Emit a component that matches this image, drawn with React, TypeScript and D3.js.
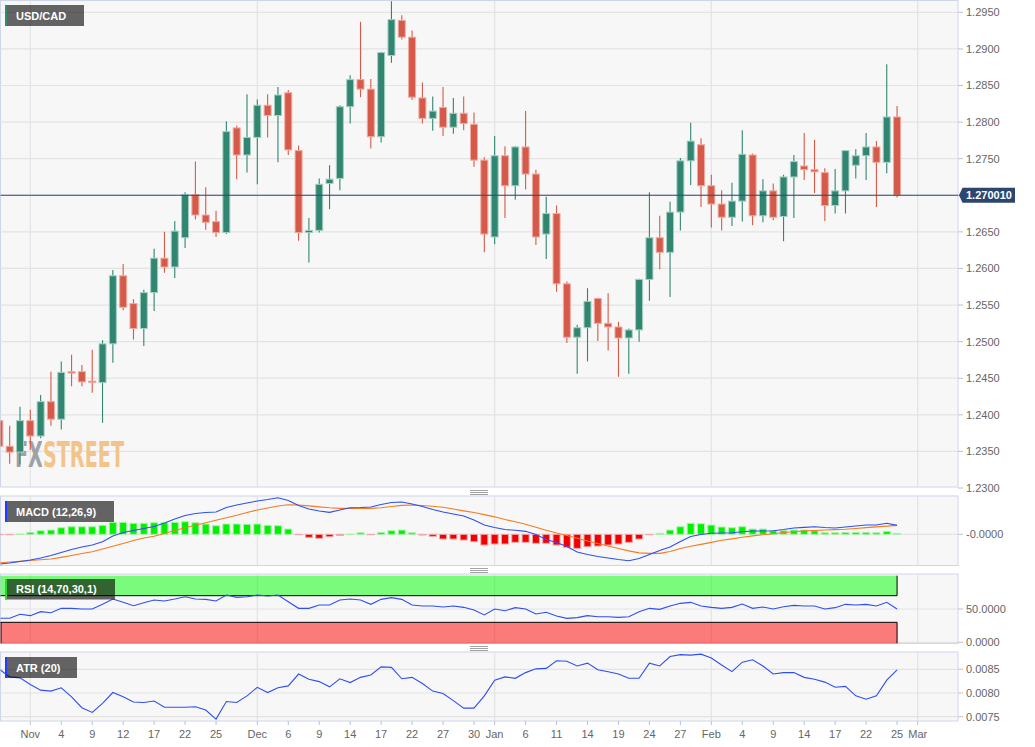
import * as d3 from "d3";

// trading days shown on the chart (one candle each)
const days = [
  "2021-10-27", "2021-10-28", "2021-10-29",
  "2021-11-01", "2021-11-02", "2021-11-03", "2021-11-04", "2021-11-05",
  "2021-11-08", "2021-11-09", "2021-11-10", "2021-11-11", "2021-11-12",
  "2021-11-15", "2021-11-16", "2021-11-17", "2021-11-18", "2021-11-19",
  "2021-11-22", "2021-11-23", "2021-11-24", "2021-11-25", "2021-11-26",
  "2021-11-29", "2021-11-30",
  "2021-12-01", "2021-12-02", "2021-12-03",
  "2021-12-06", "2021-12-07", "2021-12-08", "2021-12-09", "2021-12-10",
  "2021-12-13", "2021-12-14", "2021-12-15", "2021-12-16", "2021-12-17",
  "2021-12-20", "2021-12-21", "2021-12-22", "2021-12-23", "2021-12-24",
  "2021-12-27", "2021-12-28", "2021-12-29", "2021-12-30", "2021-12-31",
  "2022-01-03", "2022-01-04", "2022-01-05", "2022-01-06", "2022-01-07",
  "2022-01-10", "2022-01-11", "2022-01-12", "2022-01-13", "2022-01-14",
  "2022-01-17", "2022-01-18", "2022-01-19", "2022-01-20", "2022-01-21",
  "2022-01-24", "2022-01-25", "2022-01-26", "2022-01-27", "2022-01-28",
  "2022-01-31",
  "2022-02-01", "2022-02-02", "2022-02-03", "2022-02-04",
  "2022-02-07", "2022-02-08", "2022-02-09", "2022-02-10", "2022-02-11",
  "2022-02-14", "2022-02-15", "2022-02-16", "2022-02-17", "2022-02-18",
  "2022-02-21", "2022-02-22", "2022-02-23", "2022-02-24", "2022-02-25",
];
// the axis runs a couple of days past the last candle
const axisDays = [...days, "2022-02-28", "2022-03-01"];

// open, high, low, close
const ohlc: [number, number, number, number][] = [
  [1.2392, 1.2434, 1.2296, 1.2357], [1.2357, 1.2385, 1.2333, 1.2349], [1.2349, 1.2411, 1.2332, 1.2392],
  [1.2392, 1.2407, 1.2352, 1.2371], [1.2371, 1.2427, 1.2368, 1.2418], [1.2418, 1.2459, 1.2385, 1.2394],
  [1.2394, 1.2473, 1.238, 1.2458], [1.2459, 1.2482, 1.2439, 1.2457], [1.2459, 1.2468, 1.2439, 1.2445],
  [1.2446, 1.2489, 1.243, 1.2444], [1.2444, 1.2502, 1.2389, 1.2497], [1.2497, 1.2598, 1.2471, 1.259],
  [1.259, 1.2606, 1.2543, 1.2547], [1.2552, 1.2558, 1.2503, 1.2518], [1.2518, 1.2571, 1.2494, 1.2567],
  [1.2567, 1.2627, 1.2542, 1.2614], [1.2614, 1.265, 1.2594, 1.2602], [1.2602, 1.2665, 1.2587, 1.2651],
  [1.2642, 1.2704, 1.2628, 1.2701], [1.2701, 1.2746, 1.2667, 1.2673], [1.2673, 1.2711, 1.2653, 1.2663],
  [1.2664, 1.2679, 1.2643, 1.2649], [1.2649, 1.2801, 1.2647, 1.2787], [1.2792, 1.2795, 1.2722, 1.2755],
  [1.2755, 1.2838, 1.2731, 1.2779], [1.2779, 1.2831, 1.2715, 1.2823], [1.2823, 1.2838, 1.2779, 1.2809],
  [1.2809, 1.2848, 1.2745, 1.2837], [1.284, 1.2844, 1.2755, 1.2762], [1.2761, 1.2768, 1.2638, 1.2649],
  [1.2649, 1.2669, 1.2608, 1.2652], [1.2652, 1.2723, 1.2649, 1.2715], [1.2716, 1.2741, 1.2681, 1.2722],
  [1.2723, 1.2823, 1.2707, 1.2821], [1.2821, 1.2864, 1.2798, 1.2858], [1.2858, 1.2937, 1.2834, 1.2845],
  [1.2845, 1.2859, 1.2764, 1.278], [1.278, 1.2896, 1.2772, 1.2895], [1.2891, 1.2965, 1.2881, 1.294],
  [1.2939, 1.2946, 1.2913, 1.2916], [1.2916, 1.2925, 1.283, 1.2834], [1.2833, 1.2854, 1.2798, 1.2805],
  [1.2805, 1.2835, 1.2788, 1.2815], [1.282, 1.2848, 1.2781, 1.2793], [1.2793, 1.2833, 1.2784, 1.2812],
  [1.2812, 1.2835, 1.2789, 1.2798], [1.2797, 1.2813, 1.2739, 1.2748], [1.2748, 1.2752, 1.2622, 1.2647],
  [1.2643, 1.2781, 1.2633, 1.2754], [1.2754, 1.2767, 1.2669, 1.2713], [1.2713, 1.2767, 1.2694, 1.2766],
  [1.2766, 1.2815, 1.2708, 1.2729], [1.2729, 1.2735, 1.2632, 1.2643], [1.2647, 1.2698, 1.2613, 1.2675],
  [1.2675, 1.2686, 1.2568, 1.2579], [1.2579, 1.2582, 1.2498, 1.2506], [1.2506, 1.2523, 1.2456, 1.2519],
  [1.2519, 1.2573, 1.2473, 1.2555], [1.2559, 1.256, 1.2501, 1.2525], [1.2525, 1.2566, 1.2488, 1.252],
  [1.252, 1.2527, 1.2452, 1.2505], [1.2505, 1.2518, 1.2456, 1.2516], [1.2516, 1.2586, 1.25, 1.2585],
  [1.2585, 1.2704, 1.2556, 1.2642], [1.2642, 1.2672, 1.2599, 1.2622], [1.2622, 1.2691, 1.2561, 1.2677],
  [1.2677, 1.2751, 1.2652, 1.2747], [1.2747, 1.2799, 1.2714, 1.2774], [1.2769, 1.2778, 1.2684, 1.2713],
  [1.2713, 1.2728, 1.2656, 1.2688], [1.2688, 1.2707, 1.2652, 1.267], [1.267, 1.2717, 1.2658, 1.2692],
  [1.2692, 1.2789, 1.2664, 1.2756], [1.2755, 1.2757, 1.2659, 1.2672], [1.2672, 1.2722, 1.2663, 1.2706],
  [1.2706, 1.2716, 1.2666, 1.267], [1.2671, 1.2728, 1.2637, 1.2725], [1.2725, 1.2755, 1.2669, 1.2746],
  [1.274, 1.2785, 1.2721, 1.2735], [1.2735, 1.2776, 1.2703, 1.2732], [1.2731, 1.2737, 1.2665, 1.2686],
  [1.2686, 1.2736, 1.2675, 1.2706], [1.2706, 1.2762, 1.2675, 1.2761], [1.2741, 1.2763, 1.2723, 1.2754],
  [1.2754, 1.2785, 1.2721, 1.2766], [1.2766, 1.2774, 1.2684, 1.2745], [1.2745, 1.2879, 1.273, 1.2807],
  [1.2807, 1.2822, 1.2697, 1.27001],
];
const lastPrice = 1.27001;

const macdLine = [
  -0.00852, -0.00824, -0.00781, -0.00738, -0.0068, -0.00608, -0.00522, -0.00436, -0.00364, -0.00307,
  -0.00212, -0.00049, 0.00052, 0.00109, 0.00166, 0.00224, 0.00324, 0.00439, 0.0054, 0.00597,
  0.00626, 0.0064, 0.00769, 0.00841, 0.00898, 0.00956, 0.00999, 0.0105, 0.0097, 0.00827,
  0.00726, 0.00669, 0.00631, 0.00697, 0.00763, 0.00769, 0.00784, 0.00855, 0.00913, 0.00927,
  0.0087, 0.00798, 0.00712, 0.0064, 0.00583, 0.00525, 0.0041, 0.00267, 0.00195, 0.00138,
  0.00115, 0.00086, -0.00006, -0.00149, -0.00235, -0.0035, -0.00508, -0.0058, -0.00637, -0.0068,
  -0.00723, -0.00758, -0.00695, -0.0058, -0.00465, -0.00364, -0.00207, -0.00063, -0.00006, 0.00029,
  0.00037, 0.00046, 0.00075, 0.00095, 0.00095, 0.00103, 0.00138, 0.00181, 0.00201, 0.00218,
  0.00195, 0.00181, 0.0021, 0.00238, 0.00267, 0.00267, 0.00316, 0.00258,
];
const signalLine = [
  -0.00815, -0.00795, -0.00775, -0.00752, -0.00729, -0.00709, -0.0066, -0.00608, -0.00551, -0.00499,
  -0.00422, -0.00344, -0.00264, -0.00178, -0.00106, -0.00055, 0.00023, 0.00109, 0.00189, 0.00261,
  0.00333, 0.00402, 0.00474, 0.00545, 0.00626, 0.00697, 0.00755, 0.00812, 0.00847, 0.00841,
  0.00818, 0.00789, 0.00763, 0.00746, 0.00746, 0.00746, 0.00746, 0.00763, 0.00798, 0.00832,
  0.00841, 0.00827, 0.00804, 0.00775, 0.00726, 0.00674, 0.00626, 0.00565, 0.00502, 0.00425,
  0.00362, 0.00287, 0.00201, 0.00118, 0.00037, -0.00034, -0.00115, -0.00192, -0.00264, -0.00336,
  -0.00408, -0.00474, -0.00531, -0.00545, -0.00545, -0.00494, -0.00408, -0.00344, -0.00287, -0.0023,
  -0.00172, -0.0013, -0.00085, -0.00045, -0.00012, 0.00015, 0.00052, 0.00075, 0.00098, 0.00112,
  0.00123, 0.00135, 0.00146, 0.00166, 0.00192, 0.00215, 0.00235, 0.00258,
];
const macdHist = [
  -0.0001, -0.0001, 0.0001, 0.00057, 0.00103, 0.00123, 0.00189, 0.00218, 0.00218, 0.00218,
  0.00258, 0.00344, 0.00344, 0.00316, 0.00316, 0.00333, 0.00333, 0.00344, 0.00362, 0.00333,
  0.00296, 0.00247, 0.00296, 0.00296, 0.00287, 0.00296, 0.00258, 0.00247, 0.00152, -0.00005,
  -0.00086, -0.00115, -0.00069, -0.00029, 0.00005, 0.00046, -0.00005, 0.00057, 0.00103, 0.00123,
  0.00046, -0.0002, -0.00057, -0.00135, -0.00135, -0.00164, -0.00212, -0.00307, -0.00278, -0.00278,
  -0.0023, -0.0023, -0.00258, -0.00258, -0.00307, -0.00373, -0.00402, -0.00356, -0.00336, -0.00307,
  -0.00278, -0.0023, -0.00135, -0.00009, 0.00029, 0.00123, 0.00218, 0.00316, 0.00304, 0.00267,
  0.0021, 0.00189, 0.00218, 0.00152, 0.00152, 0.00103, 0.00103, 0.00123, 0.00123, 0.00103,
  0.00046, 0.00046, 0.00057, 0.00057, 0.00057, 0.00046, 0.00086, 0.00029,
];
const rsi = [
  36, 36, 42, 40, 46, 44.4, 51, 51, 50, 50,
  57, 65, 60, 55, 59.4, 63.5, 62, 65, 68.4, 65,
  64.5, 62, 71, 67.5, 68.4, 71, 69.5, 71, 61, 51,
  51, 56, 56, 63.5, 65, 63.5, 57, 64.5, 67, 64.5,
  56, 54.5, 54.5, 53, 54.5, 52.5, 48.5, 41, 50, 47.4,
  52, 50, 42.5, 45, 39.5, 36, 37, 40, 38.4, 38.4,
  37.5, 38.4, 46, 51, 49.5, 54.5, 58.5, 60, 54.5, 52.5,
  51, 52.5, 57.4, 51, 53, 50, 53.4, 55.5, 54.5, 54.5,
  50, 52, 57, 56, 57, 54.5, 60, 50,
];
const atr = [
  0.0085, 0.00834, 0.00832, 0.00818, 0.00806, 0.00804, 0.00811, 0.00792, 0.00769, 0.00759,
  0.00778, 0.00801, 0.00792, 0.00781, 0.0078, 0.00783, 0.0077, 0.0077, 0.0077, 0.00771,
  0.00764, 0.00745, 0.00782, 0.0078, 0.00794, 0.00812, 0.00801, 0.00811, 0.00815, 0.0084,
  0.00829, 0.00824, 0.00813, 0.0083, 0.00822, 0.00833, 0.00838, 0.00855, 0.00854, 0.0083,
  0.00833, 0.0082, 0.00804, 0.00799, 0.00784, 0.00768, 0.00768, 0.00794, 0.00827, 0.00834,
  0.00831, 0.00843, 0.00851, 0.00852, 0.00868, 0.00867, 0.00857, 0.00863, 0.00849, 0.00845,
  0.0084, 0.00831, 0.00831, 0.00863, 0.00857, 0.00877, 0.00881, 0.0088, 0.00882, 0.00874,
  0.00859, 0.00845, 0.00865, 0.0087, 0.00857, 0.0084, 0.00843, 0.00843, 0.00833, 0.00829,
  0.00823, 0.00812, 0.00814, 0.00794, 0.00787, 0.00794, 0.00827, 0.00849,
];

const xTicks: [string, string][] = [
  ["2021-11-01", "Nov"], ["2021-11-04", "4"], ["2021-11-09", "9"], ["2021-11-12", "12"],
  ["2021-11-17", "17"], ["2021-11-22", "22"], ["2021-11-25", "25"],
  ["2021-12-01", "Dec"], ["2021-12-06", "6"], ["2021-12-09", "9"], ["2021-12-14", "14"],
  ["2021-12-17", "17"], ["2021-12-22", "22"], ["2021-12-27", "27"], ["2021-12-30", "30"],
  ["2022-01-03", "Jan"], ["2022-01-06", "6"], ["2022-01-11", "11"], ["2022-01-14", "14"],
  ["2022-01-19", "19"], ["2022-01-24", "24"], ["2022-01-27", "27"],
  ["2022-02-01", "Feb"], ["2022-02-04", "4"], ["2022-02-09", "9"], ["2022-02-14", "14"],
  ["2022-02-17", "17"], ["2022-02-22", "22"], ["2022-02-25", "25"], ["2022-03-01", "Mar"],
];
const monthStarts = ["2021-11-01", "2021-12-01", "2022-01-03", "2022-02-01", "2022-03-01"];
const priceTicks = [
  1.23, 1.235, 1.24, 1.245, 1.25, 1.255, 1.26, 1.265, 1.27, 1.275, 1.28, 1.285, 1.29, 1.295,
];
const macdTicks: [number, string][] = [[0, "-0.0000"]];
const rsiTicks = [0, 50];
const atrTicks = [0.0075, 0.008, 0.0085];

// layout
const PR = 958; // right edge of every panel
const MAIN = { top: 0.5, bottom: 487 };
const MACD = { top: 496, bottom: 565.5 };
const RSI = { top: 574, bottom: 643.5 };
const ATR = { top: 652, bottom: 721 };

const UP = "#318671";
const UP_EDGE = "#a6cfc4";
const DOWN = "#d65a49";
const DOWN_EDGE = "#f0aaa1";
const GRID = "#e3e3e3";
const BORDER = "#cfd6ea";
const AXIS_TEXT = "#666";
const LINE_BLUE = "#2f4ff2";
const fmt4 = d3.format(".4f");

function Frame({ p, id }: { p: { top: number; bottom: number }; id: string }) {
  return (
    <>
      <clipPath id={id}>
        <rect x={0.5} y={p.top} width={PR - 0.5} height={p.bottom - p.top} />
      </clipPath>
      <rect x={0.5} y={p.top} width={PR - 0.5} height={p.bottom - p.top} fill="#f7f7f7" stroke={BORDER} />
    </>
  );
}

function Tag({ x, y, w, h, accent, text }: { x: number; y: number; w: number; h: number; accent: string; text: string }) {
  return (
    <g>
      <rect x={x} y={y} width={w} height={h} fill="rgba(0,0,0,0.6)" />
      <rect x={x} y={y} width={2} height={h} fill={accent} />
      <text x={x + 11} y={y + h / 2 + 4} fill="#fff" fontSize={11} fontWeight="bold">
        {text}
      </text>
    </g>
  );
}

function Handle({ y }: { y: number }) {
  return (
    <g stroke="#8a8a8a" strokeWidth={0.8}>
      {[-2, 0, 2].map((d) => (
        <line key={d} x1={470} x2={488} y1={y + d} y2={y + d} />
      ))}
    </g>
  );
}

function RightTick({ y, label, hideLabel }: { y: number; label: string; hideLabel?: boolean }) {
  return (
    <g>
      <line x1={PR} x2={PR + 5} y1={y} y2={y} stroke="#b9c0d6" />
      {!hideLabel && (
        <text x={966} y={y + 4} fontSize={11} fill={AXIS_TEXT}>
          {label}
        </text>
      )}
    </g>
  );
}

export default function App() {
  const x = d3.scalePoint<string>().domain(axisDays).range([-0.65, 917.7]);
  const cx = (i: number) => x(days[i]) ?? 0;
  const xLast = cx(days.length - 1);

  const yP = d3.scaleLinear().domain([1.23, 1.295]).range([488, 12.3]);
  const yM = d3.scaleLinear().domain([-0.0088, 0.011]).range([565, 496]);
  const yR = d3.scaleLinear().domain([0, 100]).range([642.3, 575.7]);
  const yA = d3.scaleLinear().domain([0.0075, 0.0085]).range([716.7, 669.3]);

  const lineOf = (y: d3.ScaleLinear<number, number>) =>
    d3.line<number>().x((_, i) => cx(i)).y((v) => y(v));

  const vGrid = (p: { top: number; bottom: number }) =>
    monthStarts.map((d) => (
      <line key={d} x1={x(d)} x2={x(d)} y1={p.top} y2={p.bottom} stroke={GRID} strokeWidth={1.2} />
    ));

  const yPrice = yP(lastPrice);

  return (
    <svg
      width={1035}
      height={747}
      style={{ position: "absolute", left: 0, top: 0, background: "#fff" }}
      fontFamily="'Liberation Sans', Arial, sans-serif"
    >
      <defs>
        {/* two-tone watermark: grey "FX", orange "STREET" */}
        <linearGradient id="wm" gradientUnits="userSpaceOnUse" x1={15} x2={124} y1={0} y2={0}>
          <stop offset="0.245" stopColor="#9da1a8" />
          <stop offset="0.245" stopColor="#f3c489" />
        </linearGradient>
      </defs>

      {/* ---------- price panel ---------- */}
      <Frame p={MAIN} id="clip-main" />
      <g clipPath="url(#clip-main)">
        {priceTicks.map((t) => (
          <line key={t} x1={0} x2={PR} y1={yP(t)} y2={yP(t)} stroke={GRID} strokeWidth={1.2} />
        ))}
        {vGrid(MAIN)}
        <text
          x={15}
          y={467}
          fill="url(#wm)"
          fontFamily="'DejaVu Sans Condensed', 'DejaVu Sans', sans-serif"
          fontWeight="bold"
          fontSize={35}
          textLength={109}
          lengthAdjust="spacingAndGlyphs"
        >
          FXSTREET
        </text>
        {ohlc.map(([o, h, l, c], i) => {
          const up = c >= o;
          const px = cx(i);
          const top = yP(Math.max(o, c));
          const hgt = Math.max(1, Math.abs(yP(o) - yP(c)));
          return (
            <g key={days[i]}>
              <line x1={px} x2={px} y1={yP(h)} y2={yP(l)} stroke={up ? UP : DOWN} strokeWidth={1.1} />
              <rect x={px - 3.5} y={top} width={7} height={hgt} fill={up ? UP : DOWN} stroke={up ? UP_EDGE : DOWN_EDGE} strokeWidth={1} />
            </g>
          );
        })}
        <line x1={0} x2={PR} y1={yPrice} y2={yPrice} stroke="#2b4673" strokeWidth={1.1} />
      </g>
      {priceTicks.map((t) => (
        <RightTick key={t} y={yP(t)} label={fmt4(t)} hideLabel={Math.abs(yP(t) - yPrice) < 12} />
      ))}
      <path
        d={`M${PR + 1},${yPrice} L${PR + 4.5},${yPrice - 7.5} H1015 V${yPrice + 7.5} H${PR + 4.5} Z`}
        fill="#2c4670"
      />
      <text x={966} y={yPrice + 4} fontSize={11} fontWeight="bold" fill="#fff">
        {lastPrice.toFixed(6)}
      </text>
      <Tag x={5} y={5} w={79} h={21} accent="#2e8b72" text="USD/CAD" />

      {/* ---------- MACD ---------- */}
      <Handle y={492.5} />
      <Frame p={MACD} id="clip-macd" />
      <g clipPath="url(#clip-macd)">
        {vGrid(MACD)}
        {macdTicks.map(([t]) => (
          <line key={t} x1={0} x2={PR} y1={yM(t)} y2={yM(t)} stroke={GRID} strokeWidth={1.2} />
        ))}
        {macdHist.map((v, i) => {
          const y0 = yM(0);
          const y1 = yM(v);
          const pos = v >= 0;
          return (
            <rect
              key={days[i]}
              x={cx(i) - 3.5}
              y={Math.min(y0, y1)}
              width={7}
              height={Math.max(0.4, Math.abs(y1 - y0))}
              fill={pos ? "#00f000" : "#f00000"}
              stroke={pos ? "#a8f5a8" : "#f5a8a8"}
              strokeWidth={1}
            />
          );
        })}
        <path d={lineOf(yM)(signalLine) ?? ""} fill="none" stroke="#f47c22" strokeWidth={1.1} />
        <path d={lineOf(yM)(macdLine) ?? ""} fill="none" stroke={LINE_BLUE} strokeWidth={1.1} />
      </g>
      {macdTicks.map(([t, label]) => (
        <RightTick key={t} y={yM(t)} label={label} />
      ))}
      <Tag x={5} y={501} w={109} h={21} accent="#1f3dff" text="MACD (12,26,9)" />

      {/* ---------- RSI ---------- */}
      <Handle y={570.5} />
      <Frame p={RSI} id="clip-rsi" />
      <g clipPath="url(#clip-rsi)">
        {vGrid(RSI)}
        {rsiTicks.map((t) => (
          <line key={t} x1={0} x2={PR} y1={yR(t)} y2={yR(t)} stroke={GRID} strokeWidth={1.2} />
        ))}
        <rect x={0} y={yR(100)} width={xLast} height={yR(70) - yR(100)} fill="rgba(0,255,0,0.5)" />
        <rect x={0} y={yR(30)} width={xLast} height={yR(0) - yR(30) + 2} fill="rgba(255,0,0,0.5)" />
        <g stroke="#000" strokeWidth={1}>
          <line x1={0} x2={xLast} y1={yR(70)} y2={yR(70)} />
          <line x1={xLast} x2={xLast} y1={yR(100)} y2={yR(70)} />
          <line x1={0} x2={xLast} y1={yR(30)} y2={yR(30)} />
          <line x1={xLast} x2={xLast} y1={yR(30)} y2={RSI.bottom} />
          <line x1={1} x2={1} y1={yR(30)} y2={RSI.bottom} />
        </g>
        <path d={lineOf(yR)(rsi) ?? ""} fill="none" stroke={LINE_BLUE} strokeWidth={1.1} />
      </g>
      {rsiTicks.map((t) => (
        <RightTick key={t} y={yR(t)} label={fmt4(t)} />
      ))}
      <Tag x={5} y={579} w={110} h={20.5} accent="#2bd42b" text="RSI (14,70,30,1)" />

      {/* ---------- ATR ---------- */}
      <Handle y={648.5} />
      <Frame p={ATR} id="clip-atr" />
      <g clipPath="url(#clip-atr)">
        {vGrid(ATR)}
        {atrTicks.map((t) => (
          <line key={t} x1={0} x2={PR} y1={yA(t)} y2={yA(t)} stroke={GRID} strokeWidth={1.2} />
        ))}
        <path d={lineOf(yA)(atr) ?? ""} fill="none" stroke={LINE_BLUE} strokeWidth={1.1} />
      </g>
      {atrTicks.map((t) => (
        <RightTick key={t} y={yA(t)} label={fmt4(t)} />
      ))}
      <Tag x={5} y={657} w={72} h={21} accent="#1f3dff" text="ATR (20)" />

      {/* ---------- date axis ---------- */}
      {xTicks.map(([d, label]) => (
        <g key={d}>
          <line x1={x(d)} x2={x(d)} y1={ATR.bottom} y2={ATR.bottom + 4} stroke="#b9c0d6" />
          <text x={x(d)} y={738} fontSize={11} fill={AXIS_TEXT} textAnchor="middle">
            {label}
          </text>
        </g>
      ))}
    </svg>
  );
}
